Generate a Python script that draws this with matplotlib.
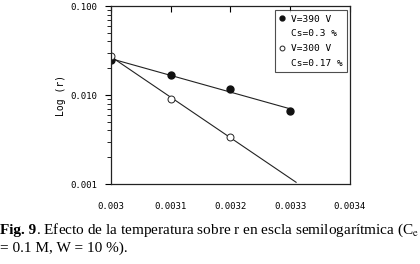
import numpy as np
import matplotlib
matplotlib.use('Agg')
import matplotlib.pyplot as plt
from matplotlib.ticker import FixedLocator, FuncFormatter, NullFormatter
from matplotlib.transforms import offset_copy

# data
x_390 = [0.0030, 0.0031, 0.0032, 0.0033]
r_390 = [0.0247, 0.0169, 0.0117, 0.0066]
x_300 = [0.0030, 0.0031, 0.0032]
r_300 = [0.0277, 0.0090, 0.0034]

xticks = [0.0030, 0.0031, 0.0032, 0.0033, 0.0034]
xtick_labels = ['0.003', '0.0031', '0.0032', '0.0033', '0.0034']
yticks = [0.001, 0.01, 0.1]

mono = 'DejaVu Sans Mono'
serif = 'Liberation Serif'
plt.rcParams['mathtext.fontset'] = 'stix'

fig = plt.figure(figsize=(4.2, 2.64), dpi=100)
ax = fig.add_axes([0.264, 0.303, 0.569, 0.674])

# exponential trend lines (fit on log scale)
p1 = np.polyfit(x_390, np.log10(r_390), 1)
xf1 = np.array([0.0030, 0.0033])
ax.plot(xf1, 10 ** np.polyval(p1, xf1), color='#222222', lw=0.8)

p2 = np.polyfit(x_300, np.log10(r_300), 1)
xf2 = np.array([0.0030, 0.00331])
ax.plot(xf2, 10 ** np.polyval(p2, xf2), color='#222222', lw=0.8)

h1, = ax.plot(x_390, r_390, 'o', ms=5, color='#111111', mec='#111111')
h2, = ax.plot(x_300, r_300, 'o', ms=5, mfc='white', mec='#222222', mew=0.7)

ax.set_yscale('log')
ax.set_xlim(0.0030, 0.0034)
ax.set_ylim(0.001, 0.1)

ax.yaxis.set_major_locator(FixedLocator(yticks))
ax.yaxis.set_major_formatter(FuncFormatter(lambda v, p: '%.3f' % v))
ax.yaxis.set_minor_formatter(NullFormatter())
ax.tick_params(axis='y', which='major', direction='out', length=4, width=0.8,
               labelsize=6.5, pad=6)
ax.tick_params(axis='y', which='minor', direction='out', length=3, width=0.6)
for lab in ax.get_yticklabels():
    lab.set_family(mono)

ax.set_xticks(xticks)
ax.set_xticklabels(xtick_labels, family=mono, fontsize=6.5)
ax.tick_params(axis='x', which='both', top=True, bottom=False, direction='in',
               length=4, width=0.8, pad=13)

for s in ax.spines.values():
    s.set_linewidth(0.9)
    s.set_color('#222222')

ax.set_ylabel('Log (r)', family=mono, fontsize=7, labelpad=3)

blank = plt.Line2D([], [], linestyle='none', marker='none')
leg = ax.legend([h1, blank, h2, blank],
                ['V=390 V', 'Cs=0.3 %', 'V=300 V', 'Cs=0.17 %'],
                loc='upper right', bbox_to_anchor=(0.988, 0.978),
                borderaxespad=0, prop={'family': mono, 'size': 6.8},
                frameon=True, fancybox=False, edgecolor='#222222',
                handlelength=0.5, handletextpad=0.6, borderpad=0.5,
                labelspacing=0.6, markerscale=0.7)
leg.get_frame().set_linewidth(0.8)

# caption: bold "Fig. 9" followed by regular text
fs = 11
t1 = fig.text(0.0, 0.128, 'Fig. 9', fontweight='bold', family=serif,
              fontsize=fs, va='center')
fig.canvas.draw()
w = t1.get_window_extent().width
fig.text(0.0, 0.128,
         '. Efecto de la temperatura sobre r en escla semilogarítmica (C$_\\mathrm{e}$',
         family=serif, fontsize=fs, va='center',
         transform=offset_copy(fig.transFigure, fig=fig, x=w, y=0, units='dots'))
fig.text(0.0, 0.06, '= 0.1 M, W = 10 %).', family=serif,
         fontsize=fs, va='center')

fig.savefig('out.png', dpi=100)
